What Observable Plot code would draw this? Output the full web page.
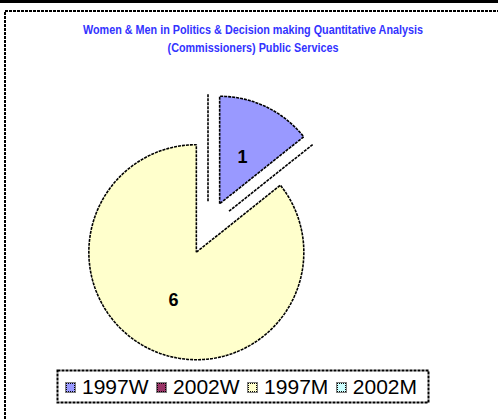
<!DOCTYPE html>
<html><head><meta charset="utf-8">
<script src="https://cdn.jsdelivr.net/npm/d3@7"></script>
<script src="https://cdn.jsdelivr.net/npm/@observablehq/plot@0.6"></script>
<style>
body{margin:0;background:#fff;}
#wrap{position:relative;width:498px;height:419px;overflow:hidden;font-family:"Liberation Sans",Arial,sans-serif;}
#decor{position:absolute;left:0;top:0;}
#title{position:absolute;left:8px;top:21px;width:490px;text-align:center;color:#3333FF;font-family:"Liberation Sans",Arial,sans-serif;font-weight:bold;font-size:13px;line-height:17.5px;transform:scaleX(0.83);transform-origin:245px 0;}
#chart{position:absolute;left:0;top:0;}
#legend{position:absolute;left:66px;top:372px;height:30px;display:flex;align-items:center;font-size:21px;color:#000;white-space:nowrap;}
.item{display:flex;align-items:center;margin-right:8.5px;}
.sw{width:7px;height:7px;border:1px dotted #000;margin-right:7px;outline:1px solid rgba(0,0,0,0.5);}
</style></head><body>
<div id="wrap">
<svg id="decor" width="498" height="419">
  <rect x="0" y="0" width="498" height="3" fill="#000"/>
  <rect x="5" y="11" width="600" height="600" fill="none" stroke="#000" stroke-width="2" stroke-dasharray="3,1"/>
  <rect x="57.5" y="370.5" width="371" height="32" fill="#fff" stroke="#000" stroke-width="2" stroke-dasharray="3,1"/>
</svg>
<div id="title">Women &amp; Men in Politics &amp; Decision making Quantitative Analysis<br>(Commissioners) Public Services</div>
<div id="chart"></div>
<div id="legend"></div>
</div>
<script>
// Data
const categories = ["1997W", "2002W", "1997M", "2002M"];
const values = [1, 0, 6, 0];
const palette = ["#9999FF", "#993366", "#FFFFCC", "#CCFFFF"];

// Layout
const W = 498, H = 419;
const cxPx = 207.5, cyPx = 227.5, rPx = 107.5;
const explode = 0.25;
const labelR = 0.49;

const data = categories.map((c, i) => ({category: c, value: values[i], color: palette[i]}));
const arcs = d3.pie().sort(null).value(d => d.value)(data);

const slices = arcs.map(a => {
  const m = (a.startAngle + a.endAngle) / 2;
  const ox = explode * Math.sin(m), oy = explode * Math.cos(m);
  const pts = [{x: ox, y: oy}];
  const n = Math.max(1, Math.ceil((a.endAngle - a.startAngle) / (Math.PI / 120)));
  for (let i = 0; i <= n; i++) {
    const t = a.startAngle + (a.endAngle - a.startAngle) * i / n;
    pts.push({x: ox + Math.sin(t), y: oy + Math.cos(t)});
  }
  if (a.data.value > 0) pts.push({x: ox, y: oy});
  return {category: a.data.category, value: a.data.value, color: a.data.color, pts,
          label: {x: ox + labelR * Math.sin(m), y: oy + labelR * Math.cos(m), text: String(a.data.value)}};
});

// draw non-zero first (largest first), zero slices last
const order = [...slices].sort((a, b) => (b.value > 0) - (a.value > 0) || b.value - a.value);

const marks = order.map(s => Plot.line(s.pts, {
  x: "x", y: "y", fill: s.value > 0 ? s.color : "none",
  stroke: "#000", strokeWidth: 1.6, strokeDasharray: s.value > 0 ? "3,1" : "3,1",
  strokeLinecap: "butt", strokeLinejoin: "miter", curve: "linear"
}));
marks.push(Plot.text(slices.filter(s => s.value > 0).map(s => s.label), {
  x: "x", y: "y", text: "text", fontSize: 18, fontWeight: "bold", fill: "#000", dy: 1
}));

const chart = Plot.plot({
  width: W, height: H, margin: 0,
  style: {background: "transparent", fontFamily: "Liberation Sans, Arial, sans-serif", overflow: "visible"},
  x: {domain: [-cxPx / rPx, (W - cxPx) / rPx], axis: null},
  y: {domain: [-(H - cyPx) / rPx, cyPx / rPx], axis: null},
  marks
});
document.getElementById("chart").appendChild(chart);

// Legend
const leg = document.getElementById("legend");
data.forEach(d => {
  const it = document.createElement("div"); it.className = "item";
  const sw = document.createElement("span"); sw.className = "sw"; sw.style.background = d.color;
  const tx = document.createElement("span"); tx.textContent = d.category;
  it.appendChild(sw); it.appendChild(tx); leg.appendChild(it);
});
</script>
</body></html>
